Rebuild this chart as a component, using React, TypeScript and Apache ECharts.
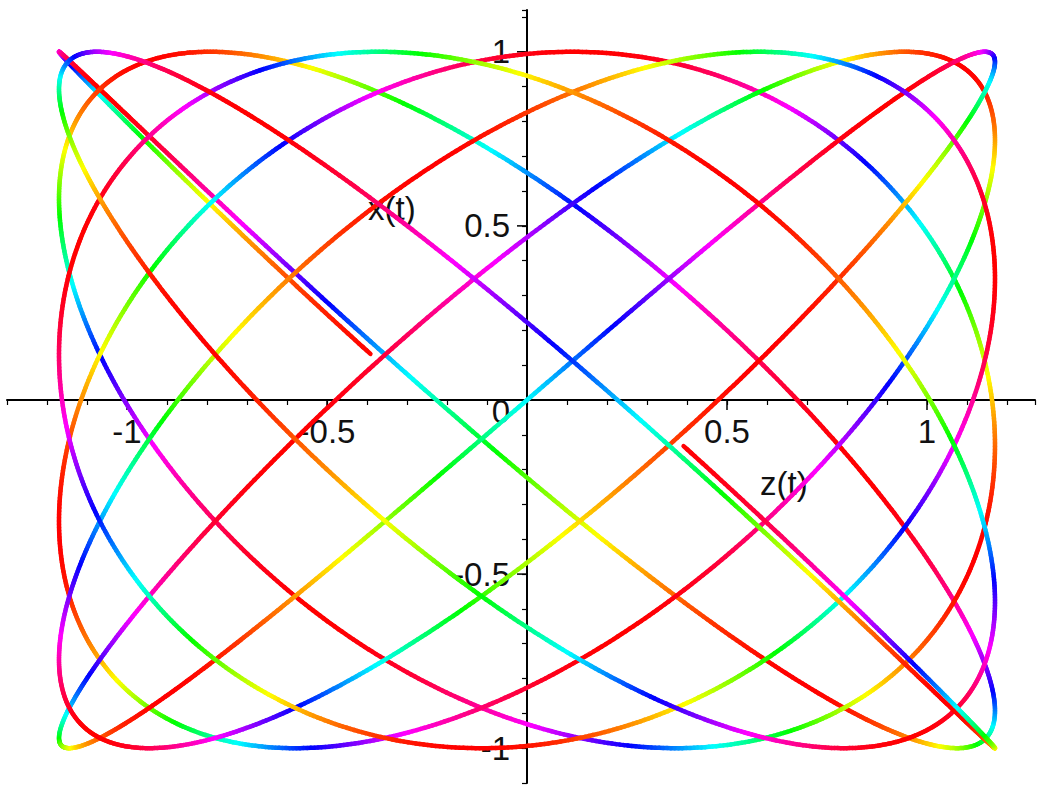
import { useEffect, useRef } from "react";
import * as echarts from "echarts";

// Parameter interval of the space curve (radians).
const T_RANGE = [-25, 25];
// [amplitude, angular frequency] of each coordinate: c(t) = amp * sin(freq * t)
const X_WAVE = [1, 1];
const Z_WAVE = [1.17, 0.866];
// Hidden depth coordinate that drives the colour: hue = 360 * (0.5 + 0.5 * sin(freq * t))
const HUE_WAVE = [0.5, 1.567];
const SAMPLES = 5000;

// Axis ticks and labels
const Z_MAJOR = [-1, -0.5, 0.5, 1];
const X_MAJOR = [-1, -0.5, 0.5, 1];
const ORIGIN_LABEL = "0";
const Z_EXTENT = [-1.3, 1.27];
const X_EXTENT = [-1.1, 1.12];
const MINOR_STEP = 0.1;

const AXIS_FONT = "Liberation Sans";
const AXIS_FONT_SIZE = 33;

function buildSegments(): number[][] {
  const [t0, t1] = T_RANGE;
  const pts: number[][] = [];
  for (let i = 0; i <= SAMPLES; i++) {
    const t = t0 + ((t1 - t0) * i) / SAMPLES;
    const z = Z_WAVE[0] * Math.sin(Z_WAVE[1] * t);
    const x = X_WAVE[0] * Math.sin(X_WAVE[1] * t);
    pts.push([z, x, t]);
  }
  const segs: number[][] = [];
  for (let i = 0; i < pts.length - 1; i++) {
    const tm = (pts[i][2] + pts[i + 1][2]) / 2;
    const hue = 360 * (HUE_WAVE[0] + HUE_WAVE[0] * Math.sin(HUE_WAVE[1] * tm));
    segs.push([pts[i][0], pts[i][1], pts[i + 1][0], pts[i + 1][1], hue]);
  }
  return segs;
}

export default function App() {
  const ref = useRef<HTMLDivElement>(null);

  useEffect(() => {
    if (!ref.current) return;
    const chart = echarts.init(ref.current, undefined, { renderer: "svg" });
    const segments = buildSegments();

    // Numbered ticks: [z, x, kind] with kind 0 = horizontal axis, 1 = vertical axis, 2 = origin
    const majorTicks = [
      ...Z_MAJOR.map((v) => [v, 0, 0]),
      ...X_MAJOR.map((v) => [0, v, 1]),
      [0, 0, 2],
    ];

    const axisLine = { onZero: true, lineStyle: { color: "#000", width: 2 } };
    const minorTick = {
      show: true,
      length: 5,
      lineStyle: { color: "#000", width: 1.2 },
    };
    const textStyle = {
      fill: "#111",
      fontFamily: AXIS_FONT,
      fontSize: AXIS_FONT_SIZE,
    };

    chart.setOption({
      animation: false,
      backgroundColor: "#fff",
      grid: {
        left: 7,
        right: 4,
        top: 10,
        bottom: 3,
        containLabel: false,
        outerBoundsMode: "none",
      },
      xAxis: {
        type: "value",
        min: Z_EXTENT[0],
        max: Z_EXTENT[1],
        interval: MINOR_STEP,
        axisLine,
        splitLine: { show: false },
        axisTick: minorTick,
        axisLabel: { show: false },
      },
      yAxis: {
        type: "value",
        min: X_EXTENT[0],
        max: X_EXTENT[1],
        interval: MINOR_STEP,
        axisLine,
        splitLine: { show: false },
        axisTick: minorTick,
        axisLabel: { show: false },
      },
      graphic: [
        {
          type: "text",
          x: 368,
          y: 192,
          style: { ...textStyle, text: "x(t)", verticalAlign: "top" },
        },
        {
          type: "text",
          x: 760,
          y: 467,
          style: { ...textStyle, text: "z(t)", verticalAlign: "top" },
        },
      ],
      series: [
        {
          // long ticks and their numbers, placed through the axis scales
          type: "custom",
          silent: true,
          clip: false,
          z: 1,
          data: majorTicks,
          encode: { x: 0, y: 1 },
          renderItem: (_params: any, api: any) => {
            const z = api.value(0);
            const x = api.value(1);
            const kind = api.value(2);
            const p = api.coord([z, x]);
            if (kind === 2) {
              return {
                type: "text",
                x: p[0] - 17,
                y: p[1] + 12,
                style: {
                  ...textStyle,
                  text: ORIGIN_LABEL,
                  align: "right",
                  verticalAlign: "middle",
                },
              };
            }
            const vertical = kind === 1;
            const value = vertical ? x : z;
            return {
              type: "group",
              children: [
                {
                  type: "line",
                  shape: vertical
                    ? { x1: p[0] - 10, y1: p[1], x2: p[0], y2: p[1] }
                    : { x1: p[0], y1: p[1], x2: p[0], y2: p[1] + 10 },
                  style: { stroke: "#000", lineWidth: 1.5 },
                },
                {
                  type: "text",
                  x: vertical ? p[0] - 17 : p[0],
                  y: vertical ? p[1] : p[1] + 15,
                  style: {
                    ...textStyle,
                    text: String(value),
                    align: vertical ? "right" : "center",
                    verticalAlign: vertical ? "middle" : "top",
                  },
                },
              ],
            };
          },
        },
        {
          type: "custom",
          silent: true,
          clip: false,
          z: 2,
          data: segments,
          encode: { x: [0, 2], y: [1, 3] },
          renderItem: (_params: any, api: any) => {
            const p1 = api.coord([api.value(0), api.value(1)]);
            const p2 = api.coord([api.value(2), api.value(3)]);
            const hue = api.value(4);
            return {
              type: "line",
              shape: { x1: p1[0], y1: p1[1], x2: p2[0], y2: p2[1] },
              style: {
                stroke: `hsl(${hue.toFixed(1)}, 100%, 50%)`,
                lineWidth: 4.5,
                lineCap: "round",
              },
            };
          },
        },
      ],
    });

    return () => chart.dispose();
  }, []);

  return (
    <div
      ref={ref}
      style={{ position: "fixed", left: 0, top: 0, width: 1039, height: 786 }}
    />
  );
}
